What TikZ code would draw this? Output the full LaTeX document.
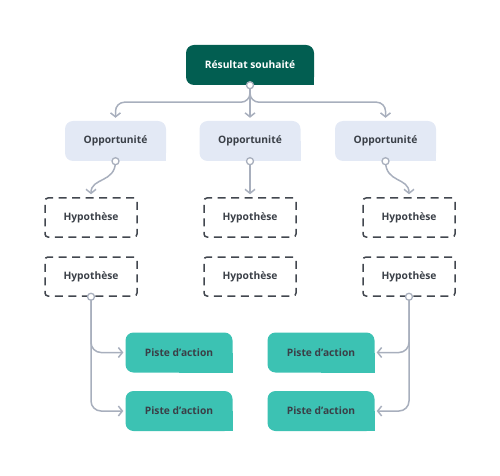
\documentclass[tikz,border=0pt]{standalone}
\usepackage{fontspec}
\setmainfont{Open Sans}
\usetikzlibrary{arrows.meta,backgrounds}
\definecolor{dkgreen}{HTML}{025E51}
\definecolor{oppblue}{HTML}{E3E9F5}
\definecolor{tealc}{HTML}{3CC2B3}
\definecolor{txtc}{HTML}{3A3F47}
\definecolor{connc}{HTML}{A8AFBD}
\definecolor{dashc}{HTML}{42474F}
\tikzset{
  box/.style={rectangle, rounded corners=8bp, inner sep=0pt, font=\bfseries\fontsize{10.3}{12}\selectfont, text=txtc},
  resbox/.style={box, fill=dkgreen, text=white, minimum width=128bp, minimum height=40bp},
  oppbox/.style={box, fill=oppblue, minimum width=101bp, minimum height=40bp},
  hypbox/.style={box, rounded corners=3bp, draw=dashc, line width=1.5bp, dash pattern=on 8bp off 5.5bp, minimum width=92bp, minimum height=39bp},
  pistebox/.style={box, fill=tealc, minimum width=107bp, minimum height=40bp},
  conn/.style={draw=connc, line width=1.5bp, -{Straight Barb[length=4bp,width=10bp,line width=1.5bp]}},
  dot/.style={draw=connc, fill=white, line width=1.3bp},
}
\begin{document}
\begin{tikzpicture}[x=1bp,y=-1bp]
\useasboundingbox (0,0) rectangle (500,476);
\node[resbox] (res) at (250,65) {Résultat souhaité};
\node[oppbox] (op1) at (115.5,141) {Opportunité};
\node[oppbox] (op2) at (250,141) {Opportunité};
\node[oppbox] (op3) at (385.5,141) {Opportunité};
\node[hypbox] (h1a) at (91,217.5) {Hypothèse};
\node[hypbox] (h1b) at (91,276.5) {Hypothèse};
\node[hypbox] (h2a) at (250,217.5) {Hypothèse};
\node[hypbox] (h2b) at (250,276.5) {Hypothèse};
\node[hypbox] (h3a) at (409,217.5) {Hypothèse};
\node[hypbox] (h3b) at (409,276.5) {Hypothèse};
\node[pistebox] (p1a) at (179,352.5) {Piste d’action};
\node[pistebox] (p1b) at (179,411) {Piste d’action};
\node[pistebox] (p3a) at (321,352.5) {Piste d’action};
\node[pistebox] (p3b) at (321,411) {Piste d’action};
\begin{scope}[on background layer]
  \fill[dkgreen] (res.center) rectangle (res.south east);
  \foreach \n in {op1,op2,op3} \fill[oppblue] (\n.center) rectangle (\n.south east);
  \foreach \n in {p1a,p1b,p3a,p3b} \fill[tealc] (\n.center) rectangle (\n.south east);
\end{scope}
% connectors
\draw[conn, rounded corners=9bp, shorten >=3bp] (res.south) -- ++(0,17) -| (op1.north);
\draw[conn, rounded corners=9bp, shorten >=3bp] (res.south) -- ++(0,17) -| (op3.north);
\draw[conn, shorten >=3bp] (res.south) -- (op2.north);
\draw[conn, shorten >=3bp] (op1.south) .. controls +(0,22) and +(0,-20) .. (h1a.north);
\draw[conn, shorten >=3bp] (op2.south) -- (h2a.north);
\draw[conn, shorten >=3bp] (op3.south) .. controls +(0,22) and +(0,-20) .. (h3a.north);
\draw[conn, rounded corners=10bp, shorten >=2bp] (h1b.south) |- (p1a.west);
\draw[conn, rounded corners=10bp, shorten >=2bp] (h1b.south) |- (p1b.west);
\draw[conn, rounded corners=10bp, shorten >=2bp] (h3b.south) |- (p3a.east);
\draw[conn, rounded corners=10bp, shorten >=2bp] (h3b.south) |- (p3b.east);
\foreach \n in {res,op1,op2,op3,h1b,h3b} \filldraw[dot] (\n.south) circle (3.5bp);
\end{tikzpicture}
\end{document}
